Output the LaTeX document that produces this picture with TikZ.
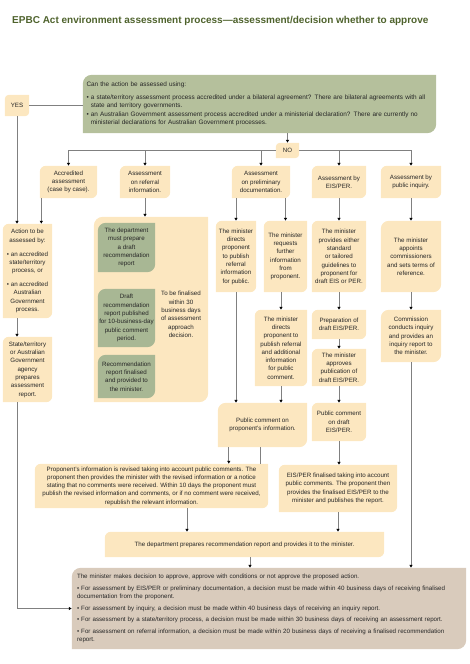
\documentclass[tikz,border=0pt]{standalone}
\usepackage{fontspec}
\setmainfont{Liberation Sans}
\usepackage{tikz}
\usetikzlibrary{arrows.meta,backgrounds}
\definecolor{boxyellow}{RGB}{252,231,192}
\definecolor{boxgreen}{RGB}{168,183,148}
\definecolor{askgreen}{RGB}{181,192,156}
\definecolor{decisiontan}{RGB}{217,203,188}
\definecolor{titlegreen}{RGB}{78,98,44}
\definecolor{linegrey}{RGB}{128,128,128}

\begin{document}
\begin{tikzpicture}[x=1pt, y=-1pt,
  box/.style={inner sep=0pt, align=center, font=\fontsize{6.2}{8.3}\selectfont, text=black!85},
  arr/.style={draw=linegrey, line width=0.7pt, -{Latex[length=3pt,width=3.6pt,color=black]}},
  link/.style={draw=linegrey, line width=0.7pt}]
\useasboundingbox (0,0) rectangle (470,664);

\node[anchor=west, inner sep=0pt, font=\bfseries\fontsize{10}{12}\selectfont, text=titlegreen] (title) at (12,21)
  {EPBC Act environment assessment process\textemdash assessment/decision whether to approve};

\node[box, font=\fontsize{6.4}{8.3}\selectfont, align=left, text width=346, minimum width=353, minimum height=58] (ask) at (259.5,104)
  {Can the action be assessed using:\\[4.5pt]
   \textbullet\ a state/territory assessment process accredited under a bilateral agreement? There are bilateral agreements with all\\
   \phantom{\textbullet\ }state and territory governments.\\
   \textbullet\ an Australian Government assessment process accredited under a ministerial declaration? There are currently no\\
   \phantom{\textbullet\ }ministerial declarations for Australian Government processes.};
\node[box, minimum width=24, minimum height=21] (yes) at (17,105.5) {YES};
\node[box, minimum width=23, minimum height=15] (no) at (287.5,150.5) {NO};

\node[box, minimum width=57, minimum height=32] (acc) at (68.5,182) {Accredited\\assessment\\(case by case).};
\node[box, minimum width=50, minimum height=32] (ref) at (145,182) {Assessment\\on referral\\information.};
\node[box, minimum width=58, minimum height=32] (pre) at (261,182) {Assessment\\on preliminary\\documentation.};
\node[box, minimum width=54, minimum height=32] (eis) at (339,182) {Assessment by\\EIS/PER.};
\node[box, minimum width=60, minimum height=32] (inq) at (411,182) {Assessment by\\public inquiry.};

\node[box, minimum width=49, minimum height=94] (act) at (27.5,271)
  {Action to be\\assessed by:\\[5.5pt]\textbullet\ an accredited\\state/territory\\process, or\\[5.5pt]\textbullet\ an accredited\\Australian\\Government\\process.};
\node[box, minimum width=49, minimum height=65] (state) at (27.5,369.5)
  {State/territory\\or Australian\\Government\\agency\\prepares\\assessment\\report.};

\node[box, minimum width=114, minimum height=185] (refbox) at (151,309.5) {};
\node[box, minimum width=57, minimum height=49] (g1) at (126.5,247.5) {The department\\must prepare\\a draft\\recommendation\\report};
\node[box, minimum width=57, minimum height=58] (g2) at (126.5,318) {Draft\\recommendation\\report published\\for 10-business-day\\public comment\\period.};
\node[box, minimum width=57, minimum height=43] (g3) at (126.5,376.5) {Recommendation\\report finalised\\and provided to\\the minister.};
\node[box] (due) at (181,314.5) {To be finalised\\within 30\\business days\\of assessment\\approach\\decision.};

\node[box, minimum width=40, minimum height=71] (dir1) at (236,256.5) {The minister\\directs\\proponent\\to publish\\referral\\information\\for public.};
\node[box, minimum width=43, minimum height=71] (req) at (285.5,256.5) {The minister\\requests\\further\\information\\from\\proponent.};
\node[box, minimum width=52, minimum height=76] (dir2) at (281,348) {The minister\\directs\\proponent to\\publish referral\\and additional\\information\\for public\\comment.};
\node[box, minimum width=89, minimum height=44] (pubc) at (262.5,425) {Public comment on\\proponent's information.};

\node[box, minimum width=54, minimum height=71] (prov) at (339,256.5) {The minister\\provides either\\standard\\or tailored\\guidelines to\\proponent for\\draft EIS or PER.};
\node[box, minimum width=54, minimum height=29] (prep) at (339,324.5) {Preparation of\\draft EIS/PER.};
\node[box, minimum width=54, minimum height=37] (appr) at (339,367.5) {The minister\\approves\\publication of\\draft EIS/PER.};
\node[box, minimum width=54, minimum height=38] (pube) at (339,422) {Public comment\\on draft\\EIS/PER.};

\node[box, minimum width=60, minimum height=71] (appt) at (411,256.5) {The minister\\appoints\\commissioners\\and sets terms of\\reference.};
\node[box, minimum width=60, minimum height=52] (comm) at (411,336) {Commission\\conducts inquiry\\and provides an\\inquiry report to\\the minister.};

\node[box, minimum width=233, minimum height=44] (rev) at (151.5,486)
  {Proponent's information is revised taking into account public comments. The\\
   proponent then provides the minister with the revised information or a notice\\
   stating that no comments were received. Within 10 days the proponent must\\
   publish the revised information and comments, or if no comment were received,\\
   republish the relevant information.};
\node[box, minimum width=118, minimum height=47] (fin) at (338,488.5)
  {EIS/PER finalised taking into account\\public comments. The proponent then\\provides the finalised EIS/PER to the\\minister and publishes the report.};
\node[box, minimum width=279, minimum height=25] (dept) at (244.5,544.5)
  {The department prepares recommendation report and provides it to the minister.};
\node[box, align=left, text width=384, minimum width=394, minimum height=81] (dec) at (269,608.5)
  {The minister makes decision to approve, approve with conditions or not approve the proposed action.\\[3.5pt]
   \textbullet\ For assessment by EIS/PER or preliminary documentation, a decision must be made within 40 business days of receiving finalised\\
   documentation from the proponent.\\[3.5pt]
   \textbullet\ For assessment by inquiry, a decision must be made within 40 business days of receiving an inquiry report.\\[3pt]
   \textbullet\ For assessment by a state/territory process, a decision must be made within 30 business days of receiving an assessment report.\\[3pt]
   \textbullet\ For assessment on referral information, a decision must be made within 20 business days of receiving a finalised recommendation\\
   report.};

\draw[link] (yes.east) -- (yes.east -| ask.west);
\draw[arr] (yes.south) -- (yes.south |- act.north);
\draw[arr] (no |- ask.south) -- (no.north);
\foreach \nm in {acc,ref,pre}
  \draw[arr] (no.west) -| (\nm.north);
\foreach \nm in {eis,inq}
  \draw[arr] (no.east) -| (\nm.north);

\draw[arr] ([xshift=1.5pt]acc.south west) -- ([xshift=1.5pt]acc.south west |- act.north);
\draw[arr] (yes |- act.south) -- (yes |- state.north);
\draw[arr] (yes |- state.south) |- (dec.west);

\draw[arr] (ref.south) -- (ref.south |- refbox.north);

\draw[arr] (pre.south -| dir1) -- (dir1.north);
\draw[arr] (pre.south -| req) -- (req.north);
\draw[arr] (dir1.south) -- (dir1.south |- pubc.north);
\draw[arr] (req.south -| dir2) -- (dir2.north);
\draw[arr] (dir2.south) -- (dir2.south |- pubc.north);
\draw[arr] ([xshift=11pt]pubc.south west) -- ([xshift=11pt]pubc.south west |- rev.north);
\draw[link] ([xshift=-2.5pt]pubc.south) -- ([xshift=-2.5pt]pubc.south |- rev.north);

\foreach \a/\b in {eis/prov, prov/prep, prep/appr, appr/pube, pube/fin, fin/dept}
  \draw[arr] (\a.south) -- (\a.south |- \b.north);

\draw[arr] (inq.south) -- (appt.north);
\draw[arr] (appt.south) -- (comm.north);
\draw[arr] (comm.south) -- (comm.south |- dec.north);

\draw[arr] ([xshift=35.5pt]rev.south) -- ([xshift=35.5pt]rev.south |- dept.north);
\draw[arr] ([xshift=5.5pt]dept.south) -- ([xshift=5.5pt]dept.south |- dec.north);

\begin{scope}[on background layer]
\foreach \nm/\col/\r in {yes/boxyellow/4, no/boxyellow/4, ask/askgreen/9,
    acc/boxyellow/6, ref/boxyellow/6, pre/boxyellow/6, eis/boxyellow/6, inq/boxyellow/6,
    act/boxyellow/6, state/boxyellow/6, refbox/boxyellow/9,
    g1/boxgreen/8, g2/boxgreen/8, g3/boxgreen/8,
    dir1/boxyellow/6, req/boxyellow/6, dir2/boxyellow/6, pubc/boxyellow/8,
    prov/boxyellow/6, prep/boxyellow/6, appr/boxyellow/6, pube/boxyellow/6,
    appt/boxyellow/8, comm/boxyellow/8,
    rev/boxyellow/6, fin/boxyellow/6, dept/boxyellow/6, dec/decisiontan/9}
  \fill[\col] ([yshift=-\r pt]\nm.north west) arc[start angle=180, end angle=90, radius=\r pt]
    -- (\nm.north east) -- ([yshift=\r pt]\nm.south east) arc[start angle=0, end angle=-90, radius=\r pt]
    -- (\nm.south west) -- cycle;
\end{scope}

\end{tikzpicture}
\end{document}
